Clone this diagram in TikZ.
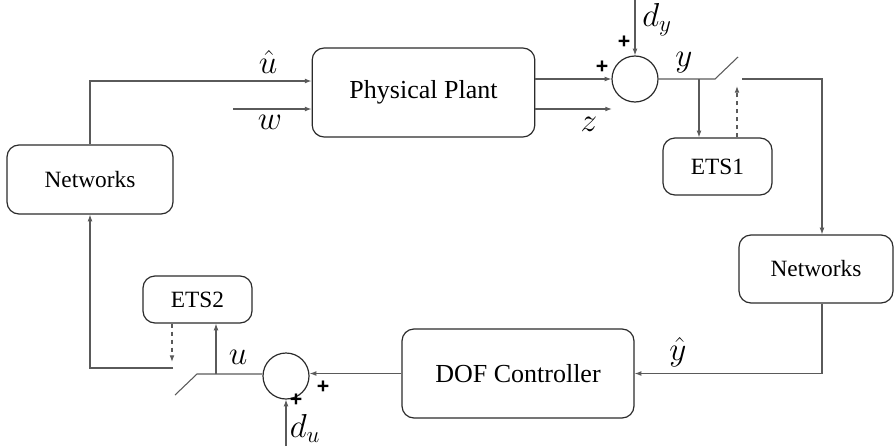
\documentclass[tikz,border=0pt]{standalone}
\usepackage{amsmath}
\usepackage{fontspec}
\setmainfont{Liberation Serif}
\setsansfont{Liberation Sans}
\newfontfamily\boxfont{Liberation Serif}
\usetikzlibrary{arrows.meta, positioning, calc}
\definecolor{wireink}{HTML}{5A5A5A}
\definecolor{boxink}{HTML}{2B2B2B}
\newcommand{\pls}{\textsf{\bfseries +}}

\begin{document}
\begin{tikzpicture}[
  x=0.75pt, y=-0.75pt,
  block/.style={draw=boxink, line width=0.9pt, rounded corners=9pt, align=center},
  bigtxt/.style={font=\boxfont\fontsize{19.5}{23}\selectfont},
  smalltxt/.style={font=\boxfont\fontsize{17.5}{21}\selectfont},
  sumnode/.style={draw=boxink, line width=0.9pt, circle, minimum size=34.5pt, inner sep=0pt},
  lbl/.style={font=\fontsize{23}{26}\selectfont, inner sep=0pt},
  sgn/.style={font=\fontsize{16}{18}\selectfont, inner sep=0pt},
  arr/.style={-{Latex[length=5pt, width=3.6pt]}},
  wire/.style={draw=wireink, line width=0.8pt}
]
\useasboundingbox (0,0) rectangle (895,446);

% blocks
\node[block, bigtxt, minimum width=167pt, minimum height=66.75pt] (plant) at (423.5,92.5) {Physical Plant};
\node[block, smalltxt, minimum width=124.5pt, minimum height=51.75pt] (netL) at (90,179.5) {Networks};
\node[block, smalltxt, minimum width=81.75pt, minimum height=42.75pt] (ets1) at (717.5,166.5) {ETS1};
\node[block, smalltxt, minimum width=115.5pt, minimum height=51pt] (netR) at (816,269) {Networks};
\node[block, bigtxt, minimum width=174pt, minimum height=66.75pt] (dof) at (518,373.5) {DOF Controller};
\node[block, smalltxt, minimum width=81.75pt, minimum height=35.25pt] (ets2) at (197.5,299.5) {ETS2};

% summing junctions
\node[sumnode] (sumY) at (635,79) {};
\node[sumnode] (sumU) at (286,376) {};

% free ends, taps and switch contacts
\coordinate (wIn) at (233,109);
\coordinate (zOut) at (612,109);
\coordinate (dyIn) at (635,0);
\coordinate (duIn) at (286,446);
\coordinate (swY1) at (715,79);
\coordinate (swY2) at (742,79);
\coordinate (tapY) at (699,79);
\coordinate (trigY) at (737,86);
\coordinate (swU1) at (197,374);
\coordinate (swU2) at (173,368);
\coordinate (tapU) at (216,374);
\coordinate (trigU) at (172,362);

% top path
\draw[wire, arr] (netL.north) |- (plant.west |- 0,81);
\draw[wire, arr] (wIn) -- (wIn -| plant.west);
\draw[wire, arr] (plant.east |- sumY) -- (sumY.west);
\draw[wire, arr] (plant.east |- zOut) -- (zOut);
\draw[wire, arr] (dyIn) -- (sumY.north);
\draw[wire] (sumY.east) -- (swY1) -- ++(23,-22);
\draw[wire, arr] (swY2) -| ([xshift=4.5pt]netR.north);
\draw[wire, arr] (tapY) -- (tapY |- ets1.north);
\draw[wire, arr, dashed] (trigY |- ets1.north) -- (trigY);

% bottom path
\draw[wire, arr] ([xshift=4.5pt]netR.south) |- (dof.east);
\draw[wire, arr] (dof.west) -- (dof.west -| sumU.east);
\draw[wire, arr] (duIn) -- (sumU.south);
\draw[wire] (sumU.west |- swU1) -- (swU1) -- ++(-22,21);
\draw[wire, arr] (swU2) -| (netL.south);
\draw[wire, arr] (tapU) -- (tapU |- ets2.south);
\draw[wire, arr, dashed] (trigU |- ets2.south) -- (trigU);

% signal labels
\node[lbl] at (268,62) {$\hat{u}$};
\node[lbl] at (270,122) {$w$};
\node[lbl] at (589,124) {$z$};
\node[lbl] at (684,63) {$y$};
\node[lbl] at (657,20) {$d_y$};
\node[lbl] at (678,352) {$\hat{y}$};
\node[lbl] at (238,357) {$u$};
\node[lbl] at (305,428) {$d_u$};

% signs
\node[sgn] at (624,42) {\pls};
\node[sgn] at (602,67) {\pls};
\node[sgn] at (323,387) {\pls};
\node[sgn] at (296,400) {\pls};
\end{tikzpicture}
\end{document}
